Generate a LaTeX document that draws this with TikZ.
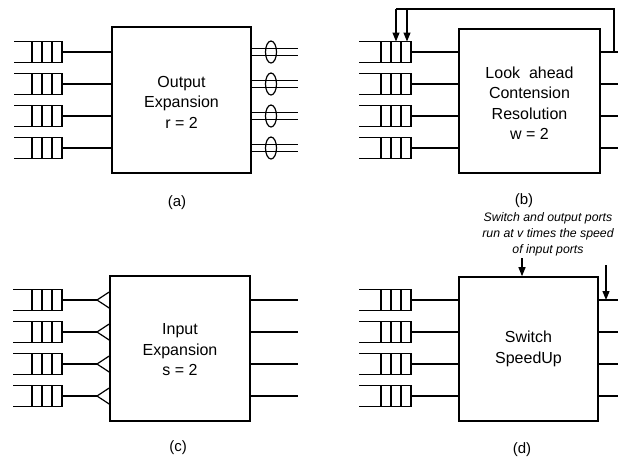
\documentclass[tikz,border=0pt]{standalone}
\usepackage{fontspec}
\setmainfont{Liberation Sans}
\usetikzlibrary{arrows.meta,shapes.geometric}
\begin{document}
\begin{tikzpicture}[x=1pt,y=-1pt,
  box/.style={draw,line width=1.6pt,inner sep=0pt,minimum width=#1},
  boxtxt/.style={font=\fontsize{16}{20.5}\selectfont,align=center},
  wire/.style={line width=1.2pt},
  qline/.style={line width=1.2pt},
  fb/.style={line width=1.2pt,-{Triangle[length=9pt,width=7pt]}},
  lbl/.style={font=\fontsize{15}{16}\selectfont},
  note/.style={font=\fontsize{12.3}{16}\selectfont\itshape,align=center}]
\useasboundingbox (0,0) rectangle (628,456);

% queue macro: #1 left x, #2 right x, #3 center y, #4 name
\newcommand{\myqueue}[4]{%
  \draw[qline] (#1,#3-10.5) -- (#2,#3-10.5) -- (#2,#3+10.5) -- (#1,#3+10.5);
  \draw[qline] (#2-10,#3-10.5) -- (#2-10,#3+10.5)
               (#2-20,#3-10.5) -- (#2-20,#3+10.5)
               (#2-30,#3-10.5) -- (#2-30,#3+10.5);
  \coordinate (#4) at (#2,#3);}

% ---------- (a) ----------
\node[box=139pt,minimum height=146pt] (A) at (181.5,100) {};
\node[boxtxt] (Atxt) at (181.5,102) {Output\\Expansion\\r = 2};
\foreach \i/\y in {1/52,2/84,3/116,4/148}{
  \myqueue{14}{62}{\y}{qa\i}
  \draw[wire] (qa\i) -- (A.west |- qa\i);
  \coordinate (oa\i) at (298,\y);
  \draw[wire] (A.east |- 0,\y-3.5) -- (298,\y-3.5);
  \draw[wire] (A.east |- 0,\y+3.5) -- (298,\y+3.5);
  \node[draw,line width=1.2pt,ellipse,minimum width=11pt,minimum height=22pt,inner sep=0pt] (ea\i) at (271,\y) {};
}
\node[lbl] (la) at (177,203) {(a)};

% ---------- (b) ----------
\node[box=141pt,minimum height=144pt] (B) at (529.5,101) {};
\node[boxtxt] (Btxt) at (529.5,103) {Look\ \ ahead\\Contension\\Resolution\\w = 2};
\foreach \i/\y in {1/52,2/84,3/116,4/148}{
  \myqueue{359}{411}{\y}{qb\i}
  \draw[wire] (qb\i) -- (B.west |- qb\i);
  \coordinate (ob\i) at (618,\y);
  \draw[wire] (B.east |- ob\i) -- (ob\i);
}
\coordinate (fbr) at (614,52);
\coordinate (fbt) at (614,9);
\coordinate (fa1) at (396,9);
\coordinate (fa2) at (407,9);
\coordinate (fq1) at (396,41.5);
\coordinate (fq2) at (407,41.5);
\draw[line width=1.2pt] (fbr) -- (fbt) -- (fa1);
\draw[fb] (fa1) -- (fq1);
\draw[fb] (fa2) -- (fq2);
\node[lbl] (lb) at (524,201) {(b)};

% ---------- (c) ----------
\node[box=140pt,minimum height=145pt] (C) at (180,348.5) {};
\node[boxtxt] (Ctxt) at (180,350) {Input\\Expansion\\s = 2};
\foreach \i/\y in {1/300,2/332,3/364,4/396}{
  \myqueue{13}{62}{\y}{qc\i}
  \coordinate (tc\i) at (97,\y);
  \draw[wire] (qc\i) -- (tc\i);
  \draw[wire] (C.west |- 0,\y-8) -- (tc\i) -- (C.west |- 0,\y+8);
  \coordinate (oc\i) at (298,\y);
  \draw[wire] (C.east |- oc\i) -- (oc\i);
}
\node[lbl] (lc) at (178,448) {(c)};

% ---------- (d) ----------
\node[box=139pt,minimum height=144pt] (D) at (528.5,349) {};
\node[boxtxt] (Dtxt) at (528.5,349) {Switch\\SpeedUp};
\foreach \i/\y in {1/300,2/332,3/364,4/396}{
  \myqueue{359}{411}{\y}{qd\i}
  \draw[wire] (qd\i) -- (D.west |- qd\i);
  \coordinate (od\i) at (618,\y);
  \draw[wire] (D.east |- od\i) -- (od\i);
}
\node[note] (nd) at (548,234) {Switch and output ports\\run at v times the speed\\of input ports};
\coordinate (ad1) at (522,258);
\coordinate (ad2) at (606,265);
\coordinate (ad2e) at (606,300);
\draw[fb] (ad1) -- (D.north -| ad1);
\draw[fb] (ad2) -- (ad2e);
\node[lbl] (ld) at (522,450) {(d)};
\end{tikzpicture}
\end{document}
